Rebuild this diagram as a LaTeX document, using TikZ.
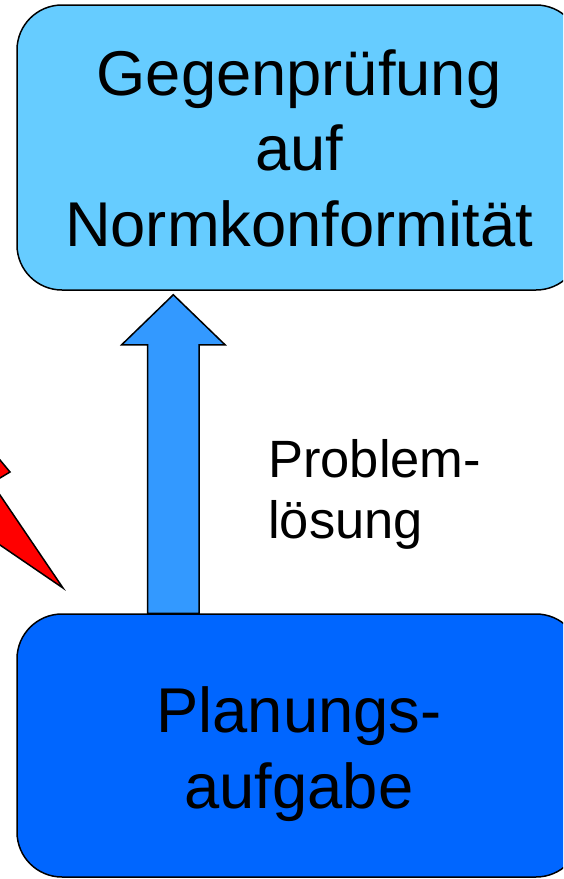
\documentclass[tikz,border=0pt]{standalone}
\usepackage{fontspec}
\setmainfont{Liberation Sans}
\usetikzlibrary{calc}
\definecolor{topfill}{HTML}{66CCFF}
\definecolor{botfill}{HTML}{0066FF}
\definecolor{arrowfill}{HTML}{3399FF}
\definecolor{boltfill}{HTML}{FF0000}
\begin{document}
\begin{tikzpicture}[x=1pt,y=-1pt,
  box/.style={draw=black, line width=1.5pt, rounded corners=45pt, minimum width=564pt, inner sep=0pt},
  boxtext/.style={font=\fontsize{63.3}{75.5}\selectfont, align=center, inner sep=0pt},
  sidetext/.style={font=\fontsize{52.5}{61}\selectfont, align=left, inner sep=0pt},
  arrowbody/.style={draw=black, line width=1.5pt, fill=arrowfill, line join=miter},
  bolt/.style={draw=black, line width=1.5pt, fill=boltfill, line join=miter}]
\useasboundingbox (0,0) rectangle (563,879);
\clip (0,0) rectangle (563,879);
% lightning bolt (mostly outside the frame)
\draw[bolt] (-100,340) -- (10,472) -- (-8.2,482.9) -- (63,588) -- (-100,476.7) -- cycle;
% boxes
\node[box, fill=topfill, minimum height=285pt] (check) at (299,147.5) {};
\node[box, fill=botfill, minimum height=263pt] (task) at (299,745.5) {};
% block arrow from task to check
\coordinate (tip) at ($(check.south)+(-125.7,4)$);
\coordinate (foot) at (tip |- task.north);
\draw[arrowbody] (tip) -- ($(tip)+(51.7,50)$) -- ($(tip)+(25.7,50)$) -- ($(foot)+(25.7,0)$)
  -- ($(foot)+(-25.6,0)$) -- ($(tip)+(-25.6,50)$) -- ($(tip)+(-51.6,50)$) -- cycle;
% texts (base anchor = baseline of the last line)
\node[boxtext, anchor=base] (checktxt) at (299,246) {Gegenprüfung\\auf\\Normkonformität};
\node[boxtext, anchor=base] (tasktxt) at (299,808) {Planungs-\\aufgabe};
\node[sidetext, anchor=base west] (soltxt) at (268,538) {Problem-\\lösung};
\end{tikzpicture}
\end{document}
